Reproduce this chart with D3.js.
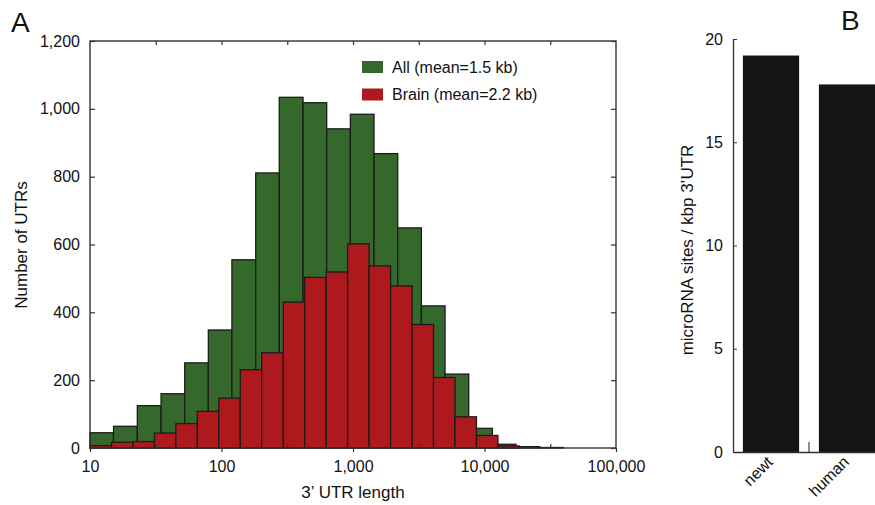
<!DOCTYPE html>
<html>
<head>
<meta charset="utf-8">
<script src="https://cdn.jsdelivr.net/npm/d3@7"></script>
<style>
    body { margin: 0; background: #fff; }
    text { font-family: Arial, "Liberation Sans", sans-serif; fill: #111; }
</style>
</head>
<body>
<div id="chart"></div>
<script>
// bin lower/upper edges (nt) of the two histograms
const allEdges = [10, 15.1, 22.9, 34.7, 52.5, 79.4, 120, 182, 275, 417, 631, 955, 1445, 2188, 3311, 5012, 7586, 11482, 17378, 26303, 39811];
const allCounts = [45, 64, 125, 160, 251, 348, 555, 811, 1034, 1018, 941, 984, 868, 649, 419, 218, 58, 11, 4, 1.5];

const brainEdges = [10, 14.56, 21.21, 30.89, 44.99, 65.5, 95.4, 139, 202, 295, 429, 625, 910, 1326, 1931, 2812, 4096, 5965, 8687, 12652, 18426];
const brainCounts = [7, 17, 19, 44, 72, 108, 147, 231, 281, 430, 503, 519, 602, 537, 478, 364, 208, 92, 37, 6];

const xTicks = [10, 100, 1000, 10000, 100000];
const xMinor = [31.62, 316.2, 3162, 31623];
const xTopTicks = [31.62, 100, 316.2, 1000, 3162, 10000, 31623];
const yTicksA = [0, 200, 400, 600, 800, 1000, 1200];

const species = ["newt", "human"];
const siteDensity = [19.2, 17.8];
const yTicksB = [0, 5, 10, 15, 20];

const legendItems = ["All (mean=1.5 kb)", "Brain (mean=2.2 kb)"];
const green = "#35692b", red = "#ae191d";

const svg = d3.select("#chart")
    .append("svg")
    .attr("width", 875)
    .attr("height", 505)
    .style("background-color", "#fff");

// ---------- panel A ----------
const aLeft = 90, aRight = 616, aTop = 41, aBottom = 448;

const xScale = d3.scaleLog().domain([10, 100000]).range([aLeft, aRight]);
const yScale = d3.scaleLinear().domain([0, 1200]).range([aBottom, aTop]);

function binData(edges, counts) {
    return counts.map((c, i) => ({ x0: edges[i], x1: edges[i + 1], n: c }));
}

const barsA = svg.append("g");
[[binData(allEdges, allCounts), green], [binData(brainEdges, brainCounts), red]].forEach(([bins, col]) => {
    barsA.append("g").selectAll("rect")
        .data(bins)
        .enter()
        .append("rect")
        .attr("x", d => xScale(d.x0))
        .attr("width", d => xScale(d.x1) - xScale(d.x0))
        .attr("y", d => yScale(d.n))
        .attr("height", d => yScale(0) - yScale(d.n))
        .attr("fill", col)
        .attr("stroke", "#1c1c1c")
        .attr("stroke-width", 1.3);
});

// frame
svg.append("rect")
    .attr("x", aLeft).attr("y", aTop)
    .attr("width", aRight - aLeft).attr("height", aBottom - aTop)
    .attr("fill", "none")
    .attr("stroke", "#333")
    .attr("stroke-width", 1.4);

svg.append("g")
    .attr("transform", `translate(${aLeft},0)`)
    .call(d3.axisLeft(yScale).tickValues(yTicksA).tickFormat(d3.format(",")).tickSize(-5).tickPadding(10));

svg.append("g")
    .attr("transform", `translate(${aRight},0)`)
    .call(d3.axisRight(yScale).tickValues(yTicksA).tickFormat("").tickSize(-5));

svg.append("g")
    .attr("transform", `translate(0,${aBottom})`)
    .call(d3.axisBottom(xScale).tickValues(xTicks).tickFormat(d3.format(",")).tickSize(4).tickPadding(9));

svg.append("g")
    .attr("transform", `translate(0,${aBottom})`)
    .call(d3.axisBottom(xScale).tickValues(xMinor).tickFormat("").tickSize(-4));

svg.append("g")
    .attr("transform", `translate(0,${aTop})`)
    .call(d3.axisTop(xScale).tickValues(xTopTicks).tickFormat("").tickSize(-4));

svg.selectAll(".domain").remove();
svg.selectAll(".tick line").attr("stroke", "#333").attr("stroke-width", 1.2);
svg.selectAll(".tick text").style("font-size", "16px").style("font-family", "Arial, 'Liberation Sans', sans-serif").attr("fill", "#111");

// legend
const legend = svg.append("g").attr("transform", "translate(362,61)");
legendItems.forEach((t, i) => {
    legend.append("rect")
        .attr("x", 0).attr("y", i * 27.5)
        .attr("width", 21).attr("height", 12)
        .attr("fill", i === 0 ? green : red);
    legend.append("text")
        .attr("x", 30).attr("y", i * 27.5 + 11.5)
        .style("font-size", "16px")
        .text(t);
});

svg.append("text")
    .attr("text-anchor", "middle")
    .attr("x", (aLeft + aRight) / 2)
    .attr("y", 498)
    .style("font-size", "17px")
    .text("3\u2019 UTR length");

svg.append("text")
    .attr("text-anchor", "middle")
    .attr("transform", "rotate(-90)")
    .attr("x", -245)
    .attr("y", 27)
    .style("font-size", "17px")
    .text("Number of UTRs");

svg.append("text")
    .attr("x", 11).attr("y", 32)
    .style("font-size", "28px")
    .text("A");

// ---------- panel B ----------
const bLeft = 733, bTop = 39, bBottom = 452;

const xB = d3.scaleBand().domain(species).range([bLeft, bLeft + 152]).paddingInner(0.26).paddingOuter(0.13);
const yB = d3.scaleLinear().domain([0, 20]).range([bBottom, bTop]);

svg.append("g").selectAll("rect")
    .data(species)
    .enter()
    .append("rect")
    .attr("x", d => xB(d))
    .attr("width", xB.bandwidth())
    .attr("y", (d, i) => yB(siteDensity[i]))
    .attr("height", (d, i) => yB(0) - yB(siteDensity[i]))
    .attr("fill", "#141414");

const yAxisB = svg.append("g")
    .attr("transform", `translate(${bLeft},0)`)
    .call(d3.axisLeft(yB).tickValues(yTicksB).tickSize(-4).tickSizeOuter(0).tickPadding(10));

const xAxisB = svg.append("g")
    .attr("transform", `translate(0,${bBottom})`)
    .call(d3.axisBottom(xB).tickSize(0).tickSizeOuter(0).tickPadding(0));

// boundary tick between the categories
const midB = (xB("newt") + xB.bandwidth() + xB("human")) / 2;
svg.append("line")
    .attr("x1", midB).attr("x2", midB)
    .attr("y1", bBottom).attr("y2", bBottom - 10)
    .attr("stroke", "#444").attr("stroke-width", 1.2);

yAxisB.select(".domain").attr("stroke", "#333").attr("stroke-width", 1.3);
xAxisB.select(".domain").attr("stroke", "#333").attr("stroke-width", 1.3);
yAxisB.selectAll(".tick line").attr("stroke", "#333");
yAxisB.selectAll(".tick text").style("font-size", "16px").attr("fill", "#111");
xAxisB.selectAll(".tick text")
    .style("font-size", "16px")
    .attr("fill", "#111")
    .attr("text-anchor", "end")
    .attr("dy", 0)
    .attr("transform", "translate(3,11) rotate(-45)");

svg.append("text")
    .attr("text-anchor", "middle")
    .attr("transform", "rotate(-90)")
    .attr("x", -250)
    .attr("y", 693)
    .style("font-size", "17px")
    .text("microRNA sites / kbp 3\u2019UTR");

svg.append("text")
    .attr("x", 841).attr("y", 30)
    .style("font-size", "28px")
    .text("B");
</script>
</body>
</html>
